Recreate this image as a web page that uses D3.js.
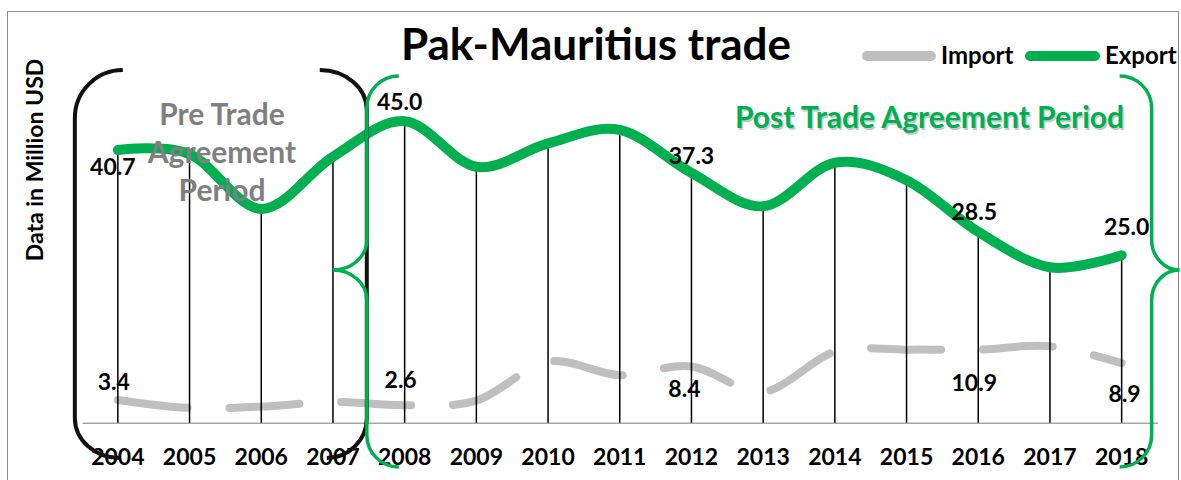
<!DOCTYPE html>
<html>
<head>
<meta charset="utf-8">
<script src="https://cdn.jsdelivr.net/npm/d3@7"></script>
<style>
    body { margin: 0; background: #fff; }
    text { font-family: Lato, "Open Sans", sans-serif; font-weight: bold; }
</style>
</head>
<body>
<svg id="chart" width="1181" height="480"></svg>
<script>
// values (million USD)
let years = [2004, 2005, 2006, 2007, 2008, 2009, 2010, 2011, 2012, 2013, 2014, 2015, 2016, 2017, 2018];
let exportValues = [40.7, 40.1, 31.9, 39.7, 45.0, 38.2, 41.7, 43.7, 37.3, 32.3, 38.8, 36.2, 28.5, 23.2, 25.0];
let importValues = [3.4, 2.2, 2.4, 3.1, 2.6, 3.3, 9.1, 7.1, 8.4, 4.6, 10.6, 10.9, 10.9, 11.4, 8.9];

// which points carry a value label, and where it sits relative to the point
let exportLabels = [
    {year: 2004, dx: -5, dy: 25},
    {year: 2008, dx: -5, dy: -11},
    {year: 2012, dx: 0, dy: -9},
    {year: 2016, dx: -4, dy: -12},
    {year: 2018, dx: 5, dy: -20}
];
let importLabels = [
    {year: 2004, dx: -4, dy: -10},
    {year: 2008, dx: -4, dy: -17},
    {year: 2012, dx: -7, dy: 31},
    {year: 2016, dx: -4, dy: 41},
    {year: 2018, dx: 3, dy: 39}
];

let green = '#00b050',
    grey = '#bfbfbf';

let svg = d3.select('#chart');

// outer frame of the chart area
svg.append('rect')
    .attr('x', 7.5).attr('y', 11.5)
    .attr('width', 1171).attr('height', 480)
    .attr('fill', 'none')
    .attr('stroke', '#8c8c8c')
    .attr('stroke-width', 1);

let xScale = d3.scaleBand()
    .domain(years)
    .range([82, 1157.5]);

let yScale = d3.scaleLinear()
    .domain([0, 50])
    .range([422.7, 87.7]);

let cx = function (year) {
    return xScale(year) + xScale.bandwidth() / 2;
};

let exportData = years.map(function (y, i) { return {year: y, value: exportValues[i]}; });
let importData = years.map(function (y, i) { return {year: y, value: importValues[i]}; });

// category axis: baseline only, bold year labels
let xAxis = d3.axisBottom(xScale).tickSize(0).tickPadding(0);
let gx = svg.append('g')
    .attr('transform', 'translate(0,' + yScale(0) + ')')
    .call(xAxis);
gx.select('.domain')
    .attr('stroke', '#a6a6a6')
    .attr('stroke-width', 1.5);
gx.selectAll('text')
    .attr('fill', '#000')
    .attr('font-size', 23)
    .attr('font-family', 'Lato, sans-serif')
    .attr('font-weight', 'bold')
    .attr('dy', null)
    .attr('y', 42);

// y axis title
svg.append('text')
    .attr('transform', 'translate(43,160) rotate(-90)')
    .attr('text-anchor', 'middle')
    .attr('font-size', 23)
    .attr('fill', '#000')
    .text('Data in Million USD');

let line = d3.line()
    .x(function (d) { return cx(d.year); })
    .y(function (d) { return yScale(d.value); })
    .curve(d3.curveCardinal.tension(0));

// import series (long dashes)
svg.append('path')
    .datum(importData)
    .attr('d', line)
    .attr('fill', 'none')
    .attr('stroke', grey)
    .attr('stroke-width', 8)
    .attr('stroke-linecap', 'round')
    .attr('stroke-dasharray', '70,42');

// drop lines from the highest point down to the axis
svg.append('g').selectAll('line')
    .data(years)
    .enter()
    .append('line')
    .attr('x1', function (d) { return cx(d); })
    .attr('x2', function (d) { return cx(d); })
    .attr('y1', function (d, i) { return yScale(Math.max(exportValues[i], importValues[i])); })
    .attr('y2', yScale(0))
    .attr('stroke', '#000')
    .attr('stroke-width', 1.5);

// export series
svg.append('path')
    .datum(exportData)
    .attr('d', line)
    .attr('fill', 'none')
    .attr('stroke', green)
    .attr('stroke-width', 10)
    .attr('stroke-linecap', 'round');

// value labels
function addLabels(data, labels) {
    svg.append('g').selectAll('text')
        .data(labels)
        .enter()
        .append('text')
        .attr('x', function (d) { return cx(d.year) + d.dx; })
        .attr('y', function (d) {
            let v = data.find(function (p) { return p.year === d.year; }).value;
            return yScale(v) + d.dy;
        })
        .attr('text-anchor', 'middle')
        .attr('font-size', 23)
        .attr('fill', '#000')
        .text(function (d) {
            return data.find(function (p) { return p.year === d.year; }).value.toFixed(1);
        });
}
addLabels(exportData, exportLabels);
addLabels(importData, importLabels);

// title
svg.append('text')
    .attr('x', 596).attr('y', 60)
    .attr('text-anchor', 'middle')
    .attr('font-size', 44)
    .attr('fill', '#000')
    .text('Pak-Mauritius trade');

// legend
let legend = svg.append('g');
legend.append('line')
    .attr('x1', 867).attr('x2', 931).attr('y1', 56).attr('y2', 56)
    .attr('stroke', grey).attr('stroke-width', 10).attr('stroke-linecap', 'round');
legend.append('text')
    .attr('x', 941).attr('y', 64)
    .attr('font-size', 24)
    .text('Import');
legend.append('line')
    .attr('x1', 1030).attr('x2', 1095).attr('y1', 56).attr('y2', 56)
    .attr('stroke', green).attr('stroke-width', 10).attr('stroke-linecap', 'round');
legend.append('text')
    .attr('x', 1105).attr('y', 64)
    .attr('font-size', 24)
    .text('Export');

// period annotations
let split = (cx(2007) + cx(2008)) / 2 - 2,
    preLeft = cx(2004) - 43,
    postRight = cx(2018) + 30;

svg.append('path')
    .attr('d', 'M' + (preLeft + 48) + ',70 A48,48 0 0 0 ' + preLeft + ',118 L' + preLeft + ',418 A45,40 0 0 0 ' + (preLeft + 45) + ',458')
    .attr('fill', 'none').attr('stroke', '#111').attr('stroke-width', 4);
svg.append('path')
    .attr('d', 'M' + (split - 47) + ',70 A47,40 0 0 1 ' + split + ',110 L' + split + ',418 A40,40 0 0 1 ' + (split - 40) + ',458')
    .attr('fill', 'none').attr('stroke', '#111').attr('stroke-width', 4);

svg.append('path')
    .attr('d', 'M' + (split + 32) + ',76 A32,32 0 0 0 ' + split + ',108 L' + split + ',240 A34,30 0 0 1 ' + (split - 34) + ',270' +
        ' A34,30 0 0 1 ' + split + ',300 L' + split + ',435 A32,32 0 0 0 ' + (split + 32) + ',467')
    .attr('fill', 'none').attr('stroke', green).attr('stroke-width', 3.5);
svg.append('path')
    .attr('d', 'M' + (postRight - 32) + ',76 A32,32 0 0 1 ' + postRight + ',108 L' + postRight + ',240 A28,30 0 0 0 ' + (postRight + 28) + ',270' +
        ' A28,30 0 0 0 ' + postRight + ',300 L' + postRight + ',435 A32,32 0 0 1 ' + (postRight - 32) + ',467')
    .attr('fill', 'none').attr('stroke', green).attr('stroke-width', 3.5);

let preText = svg.append('text')
    .attr('text-anchor', 'middle')
    .attr('font-size', 30)
    .attr('fill', '#7f7f7f');
['Pre Trade', 'Agreement', 'Period'].forEach(function (s, i) {
    preText.append('tspan')
        .attr('x', 222)
        .attr('y', 125 + i * 38)
        .text(s);
});

svg.append('text')
    .attr('x', 736.5).attr('y', 129.5)
    .attr('font-size', 30)
    .attr('fill', '#c8c8c8')
    .text('Post Trade Agreement Period');
svg.append('text')
    .attr('x', 735).attr('y', 128)
    .attr('font-size', 30)
    .attr('fill', green)
    .text('Post Trade Agreement Period');
</script>
</body>
</html>
